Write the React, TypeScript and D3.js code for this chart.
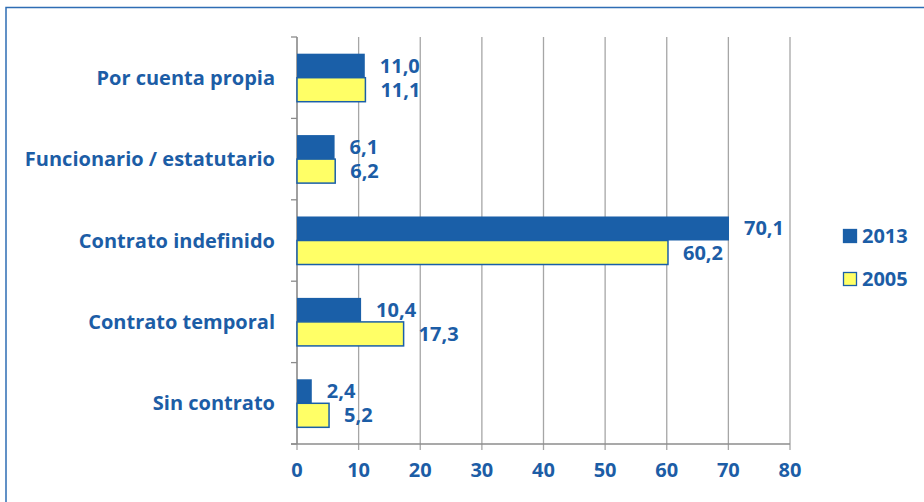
import React from "react";
import * as d3 from "d3";

const categories = ["Por cuenta propia", "Funcionario / estatutario", "Contrato indefinido", "Contrato temporal", "Sin contrato"];
const values2013 = [11.0, 6.1, 70.1, 10.4, 2.4];
const values2005 = [11.1, 6.2, 60.2, 17.3, 5.2];
const seriesNames = ["2013", "2005"];
const xTicks = [0, 10, 20, 30, 40, 50, 60, 70, 80];

const W = 924, H = 502;
const BLUE = "#1A5FA8";
const YELLOW = "#FFFF66";
const TEXT = "#1C5DA6";
const GRID = "#A6A6A6";
const FONT = "'Open Sans', Lato, sans-serif";
const FS = 20;

export default function App() {
  const x = d3.scaleLinear().domain([0, 80]).range([297, 790]);
  const y = d3.scaleBand<string>().domain(categories).range([37, 444]).paddingInner(0.41).paddingOuter(0.205);
  const sub = d3.scaleBand<string>().domain(seriesNames).range([0, y.bandwidth()]);
  const fmt = (v: number) => v.toFixed(1).replace(".", ",");
  const series = [
    { name: "2013", values: values2013, fill: BLUE, stroke: BLUE },
    { name: "2005", values: values2005, fill: YELLOW, stroke: BLUE },
  ];
  const [y0, y1] = [37, 444];
  const bandStep = (y1 - y0) / categories.length;
  return (
    <svg width={W} height={H} style={{ position: "absolute", left: 0, top: 0, background: "#fff" }} fontFamily={FONT}>
      <rect x={6} y={7.5} width={W + 10} height={H + 10} fill="none" stroke="#2E6DB4" strokeWidth={1.5} />
      {xTicks.map((t) => (
        <line key={"g" + t} x1={x(t)} x2={x(t)} y1={y0} y2={y1 + 6} stroke={GRID} strokeWidth={1.3} />
      ))}
      <line x1={x(0)} x2={x(0)} y1={y0} y2={y1} stroke="#8C8C8C" strokeWidth={1.3} />
      {d3.range(categories.length + 1).map((i) => (
        <line key={"yt" + i} x1={x(0) - 6} x2={x(0)} y1={y0 + i * bandStep} y2={y0 + i * bandStep} stroke="#8C8C8C" strokeWidth={1.3} />
      ))}
      <line x1={x(0) - 6} x2={x(80)} y1={y1} y2={y1} stroke="#8C8C8C" strokeWidth={1.3} />
      {series.map((s) =>
        categories.map((c, i) => {
          const by = (y(c) as number) + (sub(s.name) as number);
          const bh = sub.bandwidth();
          return (
            <g key={s.name + c}>
              <rect x={x(0)} y={by} width={x(s.values[i]) - x(0)} height={bh} fill={s.fill} stroke={s.stroke} strokeWidth={s.name === "2005" ? 1.5 : 0} />
              <text x={x(s.values[i]) + 15} y={by + bh / 2} dy="0.35em" fill={TEXT} fontWeight="bold" fontSize={FS}>
                {fmt(s.values[i])}
              </text>
            </g>
          );
        })
      )}
      {categories.map((c) => (
        <text key={"c" + c} x={275} y={(y(c) as number) + y.bandwidth() / 2} dy="0.35em" textAnchor="end" fill={TEXT} fontWeight="bold" fontSize={FS}>
          {c}
        </text>
      ))}
      {xTicks.map((t) => (
        <text key={"xl" + t} x={x(t)} y={470} dy="0.35em" textAnchor="middle" fill={TEXT} fontWeight="bold" fontSize={FS}>
          {t}
        </text>
      ))}
      {series.map((s, i) => (
        <g key={"lg" + s.name} transform={`translate(843, ${229 + i * 43})`}>
          <rect x={0.5} y={0.5} width={13} height={13} fill={s.fill} stroke={s.stroke} strokeWidth={1.3} />
          <text x={19} y={7} dy="0.35em" fill={TEXT} fontWeight="bold" fontSize={FS}>
            {s.name}
          </text>
        </g>
      ))}
    </svg>
  );
}
